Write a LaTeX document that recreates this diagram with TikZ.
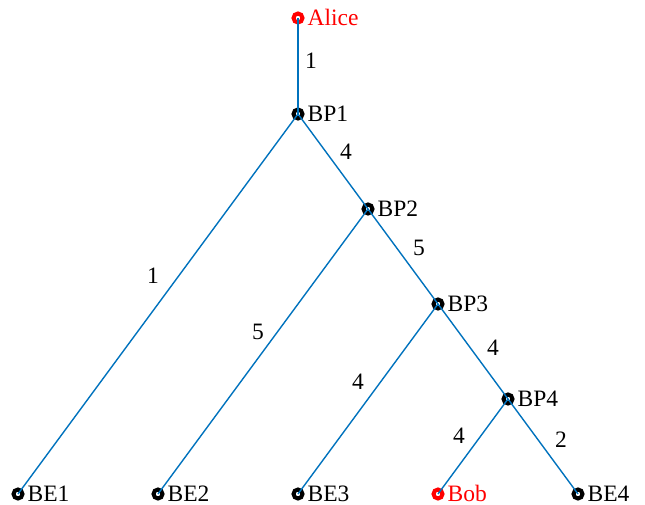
\documentclass[tikz,border=0pt]{standalone}
\usepackage{fontspec}
\setmainfont{Liberation Serif}
\definecolor{mblue}{rgb}{0,0.447,0.741}
\begin{document}
\begin{tikzpicture}[x=1pt,y=1pt,
  mk/.style={circle,draw=black,line width=4pt,minimum size=9pt,inner sep=0pt},
  mkr/.style={mk,draw=red},
  edgeline/.style={draw=mblue,line width=1.4pt},
  txt/.style={font=\fontsize{23.5}{23.5}\selectfont,inner sep=0pt},
  nlab/.style={txt,anchor=base west,yshift=-7.5pt,label distance=3pt},
  elabel/.style={txt}]
\useasboundingbox (0,0) rectangle (645,504);
% markers
\node[mkr,label={[nlab,text=red]0:Alice}] (alice) at (298,486) {};
\node[mk,label={[nlab]0:BP1}] (bp1) at (298,390) {};
\node[mk,label={[nlab]0:BP2}] (bp2) at (368,295) {};
\node[mk,label={[nlab]0:BP3}] (bp3) at (438,200) {};
\node[mk,label={[nlab]0:BP4}] (bp4) at (508,105) {};
\node[mk,label={[nlab]0:BE1}] (be1) at (18,10) {};
\node[mk,label={[nlab]0:BE2}] (be2) at (158,10) {};
\node[mk,label={[nlab]0:BE3}] (be3) at (298,10) {};
\node[mkr,label={[nlab,text=red]0:Bob}] (bob) at (438,10) {};
\node[mk,label={[nlab]0:BE4}] (be4) at (578,10) {};
% edges
\draw[edgeline] (alice.center) -- (bp1.center);
\draw[edgeline] (bp1.center) -- (bp2.center);
\draw[edgeline] (bp2.center) -- (bp3.center);
\draw[edgeline] (bp3.center) -- (bp4.center);
\draw[edgeline] (bp4.center) -- (be4.center);
\draw[edgeline] (bp4.center) -- (bob.center);
\draw[edgeline] (bp3.center) -- (be3.center);
\draw[edgeline] (bp2.center) -- (be2.center);
\draw[edgeline] (bp1.center) -- (be1.center);
% edge labels
\node[elabel] (w1) at (311,443) {1};
\node[elabel] (w2) at (346,352) {4};
\node[elabel] (w3) at (419,256) {5};
\node[elabel] (w4) at (493,156) {4};
\node[elabel] (w5) at (561,64) {2};
\node[elabel] (w6) at (459,68) {4};
\node[elabel] (w7) at (358,122) {4};
\node[elabel] (w8) at (258,172) {5};
\node[elabel] (w9) at (153,228) {1};
\end{tikzpicture}
\end{document}
